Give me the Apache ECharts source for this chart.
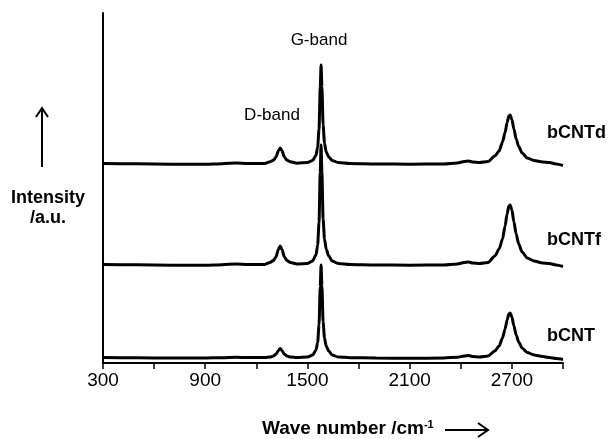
<!DOCTYPE html>
<html>
<head>
<meta charset="utf-8">
<script src="https://cdn.jsdelivr.net/npm/echarts@6/dist/echarts.min.js"></script>
<style>
html,body{margin:0;padding:0;background:#fff;}
#chart{width:609px;height:439px;}
</style>
</head>
<body>
<div id="chart"></div>
<script>
// Wavenumbers (cm^-1)
var wavenumbers = [300,500,700,900,1000,1080,1150,1250,
  1280,1300,1315,1330,1340,1350,1365,1380,1400,
  1440,1500,1530,1550,1560,1568,1575,1580,1585,1592,1600,1610,1625,1645,1680,
  1750,1900,2100,2300,2380,2420,2445,2470,2510,2560,
  2600,2625,2645,2660,2672,2682,2690,2700,2712,2725,2740,2760,2790,2830,2880,2920,2960,3000];
// Intensities (a.u., offset vertically as in the figure)
var bCNT = [5.5,5.2,5,5,5.3,5.8,5.4,5.5,
  6,6.9,8.7,12.6,14.5,12.6,8.7,6.9,6,
  5.5,6,7.9,12.7,20.6,38,76,98,77,41,25,17,12,8,6,
  5.3,5,4.7,5,5.8,7,7.5,6.5,6,7,
  12,17,25,34,43,49,50,46,37,28,21,15,10.5,8,6.5,5.5,4.5,3.5];
var bCNTf = [98.5,98.2,97.8,97.8,98.3,99,98.5,98.6,
  100.5,102.4,106,113.8,117,113.8,106,102.4,100.5,
  99,99.5,102,108,118,141,190,218,190,144,124,114,107,102,99.5,
  98.5,98,97.8,98,99,100.5,101,100,99.5,100.5,
  107,114,124,137,149,157,158,153,141,129,119,111,105,102,100,99.5,98,96.5];
var bCNTd = [199.5,199.2,198.8,198.8,199.3,200,199.5,199.6,
  201.2,202.8,205.8,212.4,215,212.4,205.8,202.8,201.2,
  199.8,200.5,202.5,207.5,216,234,275,298,276,238,220,211,206,202.5,200.5,
  199.5,199,198.8,199,200,201.5,202,201,200.5,201.5,
  207,212,221,230.5,240.5,247,248,243.5,234,224,216.5,210,205,202.5,201,200.5,199,197.5];
var seriesNames = ['bCNT','bCNTf','bCNTd'];
var bandLabels = ['D-band','G-band'];
var tickLabels = ['300','900','1500','2100','2700'];

function pairs(arr){ return wavenumbers.map(function(x,i){ return [x, arr[i]]; }); }

var FONT = 'Liberation Sans, Arial, sans-serif';
var chart = echarts.init(document.getElementById('chart'), null, {renderer:'canvas'});
var lineStyle = {color:'#000', width:3};
function mk(name, arr){
  return {name:name, type:'line', data:pairs(arr), showSymbol:false, symbol:'none',
    smooth:0.25, smoothMonotone:'x', lineStyle:lineStyle, itemStyle:{color:'#000'}, animation:false, z:3};
}
chart.setOption({
  animation:false,
  backgroundColor:'#fff',
  grid:{left:103, right:46, top:13, bottom:76, containLabel:false},
  xAxis:{type:'value', min:300, max:3000, interval:300,
    axisLine:{show:true, onZero:false, lineStyle:{color:'#000', width:2}},
    axisTick:{show:true, inside:false, length:6, lineStyle:{color:'#000', width:1.5}},
    splitLine:{show:false},
    axisLabel:{fontFamily:FONT, fontSize:19, color:'#000', margin:8,
      formatter:function(v){ var s=String(v); return tickLabels.indexOf(s)>=0 ? s : ''; }}
  },
  yAxis:{type:'value', min:0, max:350,
    axisLine:{show:true, lineStyle:{color:'#000', width:2}},
    axisTick:{show:false}, axisLabel:{show:false}, splitLine:{show:false}},
  series:[mk(seriesNames[0], bCNT), mk(seriesNames[1], bCNTf), mk(seriesNames[2], bCNTd)],
  graphic:[
    {type:'text', left:547, top:124, style:{text:seriesNames[2], font:'bold 18px '+FONT, fill:'#000'}},
    {type:'text', left:547, top:231, style:{text:seriesNames[1], font:'bold 18px '+FONT, fill:'#000'}},
    {type:'text', left:547, top:327, style:{text:seriesNames[0], font:'bold 18px '+FONT, fill:'#000'}},
    {type:'text', x:272, y:115, style:{text:bandLabels[0], font:'17px '+FONT, fill:'#000', align:'center', verticalAlign:'middle'}},
    {type:'text', x:319, y:40, style:{text:bandLabels[1], font:'17px '+FONT, fill:'#000', align:'center', verticalAlign:'middle'}},
    {type:'text', x:48, y:198, style:{text:'Intensity', font:'bold 18px '+FONT, fill:'#000', align:'center', verticalAlign:'middle'}},
    {type:'text', x:48, y:218, style:{text:'/a.u.', font:'bold 18px '+FONT, fill:'#000', align:'center', verticalAlign:'middle'}},
    {type:'line', shape:{x1:42, y1:167, x2:42, y2:109}, style:{stroke:'#000', lineWidth:2}},
    {type:'polyline', shape:{points:[[36,117],[42,108],[48,117]]}, style:{stroke:'#000', lineWidth:2, fill:null}},
    {type:'text', x:262, y:429, style:{
      text:'{a|Wave number /cm}{s|-1}', verticalAlign:'middle',
      rich:{a:{font:'bold 19px '+FONT, fill:'#000'}, s:{font:'bold 11px '+FONT, fill:'#000', padding:[0,0,9,0]}}}},
    {type:'line', shape:{x1:445, y1:430, x2:487, y2:430}, style:{stroke:'#000', lineWidth:2}},
    {type:'polyline', shape:{points:[[478,423],[488,430],[478,437]]}, style:{stroke:'#000', lineWidth:2, fill:null}}
  ]
});
</script>
</body>
</html>
